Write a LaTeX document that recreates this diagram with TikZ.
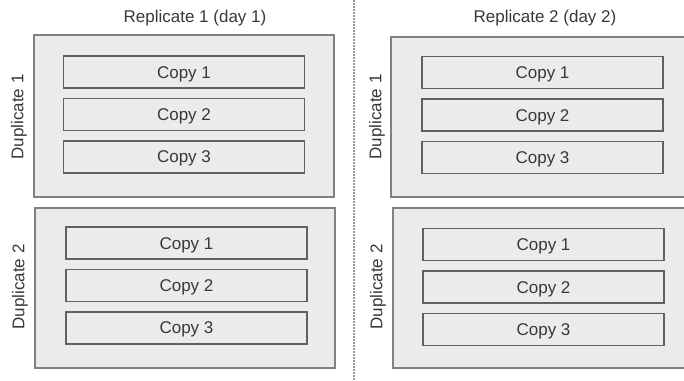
\documentclass[tikz,border=0pt]{standalone}
\usepackage{fontspec}
\setmainfont{Liberation Sans}
\usetikzlibrary{positioning}

\begin{document}
\begin{tikzpicture}[x=1pt,y=1pt,node distance=9pt,
    font=\fontsize{17}{20}\selectfont,text=black!78,
    dupbox/.style={draw=black!50,fill=black!8,line width=1.2pt,inner sep=0pt},
    copybox/.style={draw=black!62,fill=black!8,line width=1.4pt,minimum width=241pt,minimum height=32pt,inner sep=0pt,text height=12.2pt,text depth=0pt},
    duplbl/.style={rotate=90},
    seprule/.style={draw=black!40,line width=1.2pt,dash pattern=on 1.5pt off 1.5pt}]
    \useasboundingbox (0,0) rectangle (684,-380);
    \clip (0,0) rectangle (684,-380);

    % separator
    \coordinate (sepT) at (354,0);
    \coordinate (sepB) at (354,-380);
    \draw[seprule] (sepT) -- (sepB);

    % replicate 1
    \node (rep1) at (195,-18) {Replicate 1 (day 1)};
    \node[dupbox,minimum width=300pt,minimum height=162pt] (d11) at (184,-116) {};
    \node[duplbl] (l11) at (19,-117) {Duplicate 1};
    \node[copybox] (c111) at (184,-72) {Copy 1};
    \node[copybox,below=of c111] (c112) {Copy 2};
    \node[copybox,below=of c112] (c113) {Copy 3};

    \node[dupbox,minimum width=300pt,minimum height=160pt] (d12) at (185,-288) {};
    \node[duplbl] (l12) at (20,-287) {Duplicate 2};
    \node[copybox] (c121) at (186.5,-243) {Copy 1};
    \node[copybox,below=of c121] (c122) {Copy 2};
    \node[copybox,below=of c122] (c123) {Copy 3};

    % replicate 2
    \node (rep2) at (545,-18) {Replicate 2 (day 2)};
    \node[dupbox,minimum width=309pt,minimum height=160pt] (d21) at (545.5,-117) {};
    \node[duplbl] (l21) at (377,-117) {Duplicate 1};
    \node[copybox] (c211) at (542.5,-72.5) {Copy 1};
    \node[copybox,below=of c211] (c212) {Copy 2};
    \node[copybox,below=of c212] (c213) {Copy 3};

    \node[dupbox,minimum width=307pt,minimum height=160pt] (d22) at (546.5,-288) {};
    \node[duplbl] (l22) at (378,-287) {Duplicate 2};
    \node[copybox] (c221) at (543.5,-244.5) {Copy 1};
    \node[copybox,below=of c221] (c222) {Copy 2};
    \node[copybox,below=of c222] (c223) {Copy 3};
\end{tikzpicture}
\end{document}
